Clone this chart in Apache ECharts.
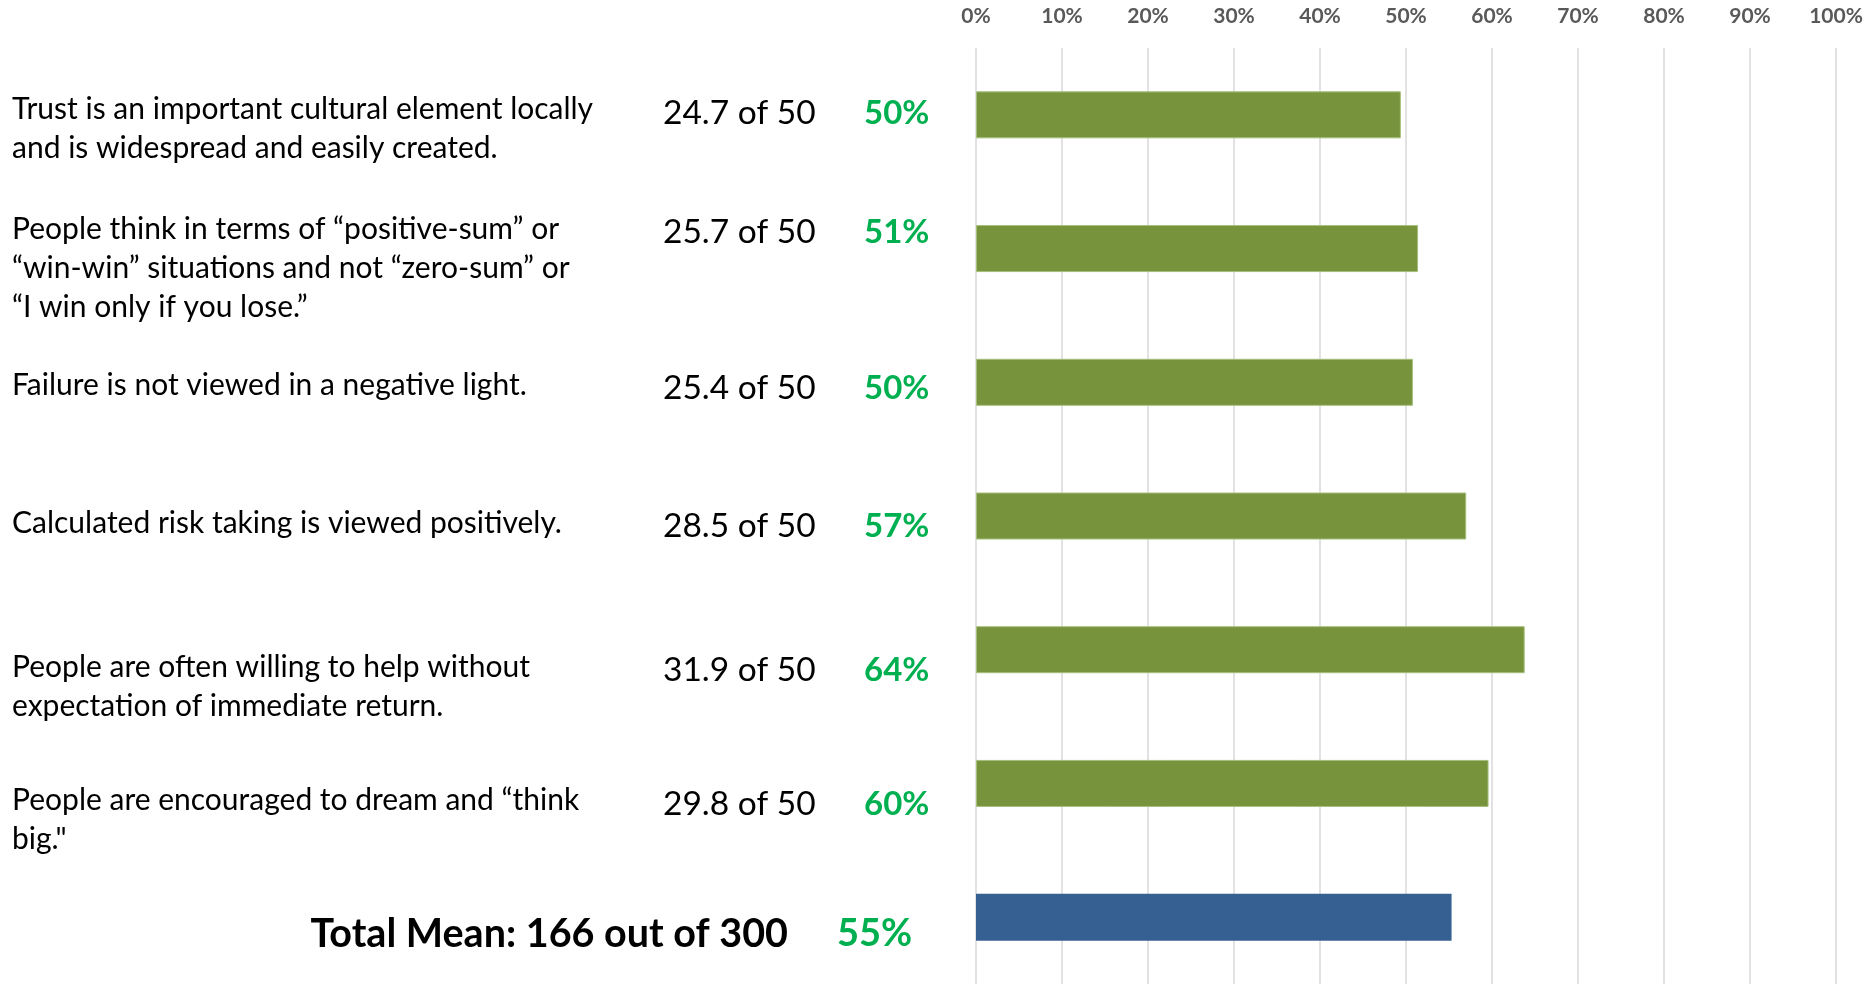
<!DOCTYPE html>
<html><head><meta charset="utf-8">
<script src="https://cdn.jsdelivr.net/npm/echarts@6/dist/echarts.min.js"></script>
<style>html,body{margin:0;padding:0;background:#fff}#c{width:1868px;height:984px}</style>
</head><body><div id="c"></div>
<script>
// ---- data ----
const categories = [
  'Trust is an important cultural element locally\nand is widespread and easily created.',
  'People think in terms of \u201cpositive-sum\u201d or\n\u201cwin-win\u201d situations and not \u201czero-sum\u201d or\n\u201cI win only if you lose.\u201d',
  'Failure is not viewed in a negative light.',
  'Calculated risk taking is viewed positively.',
  'People are often willing to help without\nexpectation of immediate return.',
  'People are encouraged to dream and \u201cthink\nbig."',
  'Total Mean'
];
const scoreLabels = ['24.7 of 50', '25.7 of 50', '25.4 of 50', '28.5 of 50', '31.9 of 50', '29.8 of 50'];
const pctLabels = ['50%', '51%', '50%', '57%', '64%', '60%'];
const totalLabel = 'Total Mean: 166 out of 300';
const totalPct = '55%';
const barValues = [49.4, 51.4, 50.8, 57.0, 63.8, 59.6, 55.3];
const tickLabels = ['0%', '10%', '20%', '30%', '40%', '50%', '60%', '70%', '80%', '90%', '100%'];

// ---- layout ----
const FONT = 'Lato, "Noto Sans", sans-serif';
const descFirstLineY = [109, 229, 385, 523, 667, 800];
const scoreY = [113, 232, 388, 526, 670, 804];
const totalY = 934;
const GREEN_BAR = '#77933C', BLUE_BAR = '#376092', GREEN_TXT = '#00B050';

const chart = echarts.init(document.getElementById('c'), null, {renderer: 'canvas'});

const graphics = [];
categories.slice(0, 6).forEach((t, i) => {
  graphics.push({type: 'text', x: 12, y: descFirstLineY[i] - 19.5,
    style: {text: t, font: '30px ' + FONT, fill: '#000', lineHeight: 39, verticalAlign: 'top', align: 'left'}});
  graphics.push({type: 'text', x: 663, y: scoreY[i],
    style: {text: scoreLabels[i], font: '33.5px ' + FONT, fill: '#000', verticalAlign: 'middle', align: 'left'}});
  graphics.push({type: 'text', x: 864, y: scoreY[i],
    style: {text: pctLabels[i], font: 'bold 33px ' + FONT, fill: GREEN_TXT, verticalAlign: 'middle', align: 'left'}});
});
graphics.push({type: 'text', x: 788, y: totalY,
  style: {text: totalLabel, font: 'bold 39.5px ' + FONT, fill: '#000', verticalAlign: 'middle', align: 'right'}});
graphics.push({type: 'text', x: 837, y: totalY,
  style: {text: totalPct, font: 'bold 38px ' + FONT, fill: GREEN_TXT, verticalAlign: 'middle', align: 'left'}});

chart.setOption({
  animation: false,
  grid: {left: 976, width: 860, top: 48, height: 938, containLabel: false},
  xAxis: {
    type: 'value', position: 'top', min: 0, max: 100, interval: 10,
    axisLine: {show: false}, axisTick: {show: false},
    splitLine: {show: true, lineStyle: {color: '#D9D9D9', width: 1.5}},
    axisLabel: {margin: 21, color: '#595959', fontWeight: 'bold', fontSize: 21, fontFamily: FONT,
      formatter: (v) => tickLabels[Math.round(v / 10)]}
  },
  yAxis: {
    type: 'category', inverse: true, data: categories,
    axisLine: {show: false}, axisTick: {show: false}, axisLabel: {show: false}, splitLine: {show: false}
  },
  series: [{
    type: 'bar', barWidth: 47,
    data: barValues.map((v, i) => ({
      value: v,
      itemStyle: i === 6 ? {color: BLUE_BAR} : {color: GREEN_BAR, borderColor: '#A6BF7A', borderWidth: 1}
    }))
  }],
  graphic: graphics
});
</script></body></html>
